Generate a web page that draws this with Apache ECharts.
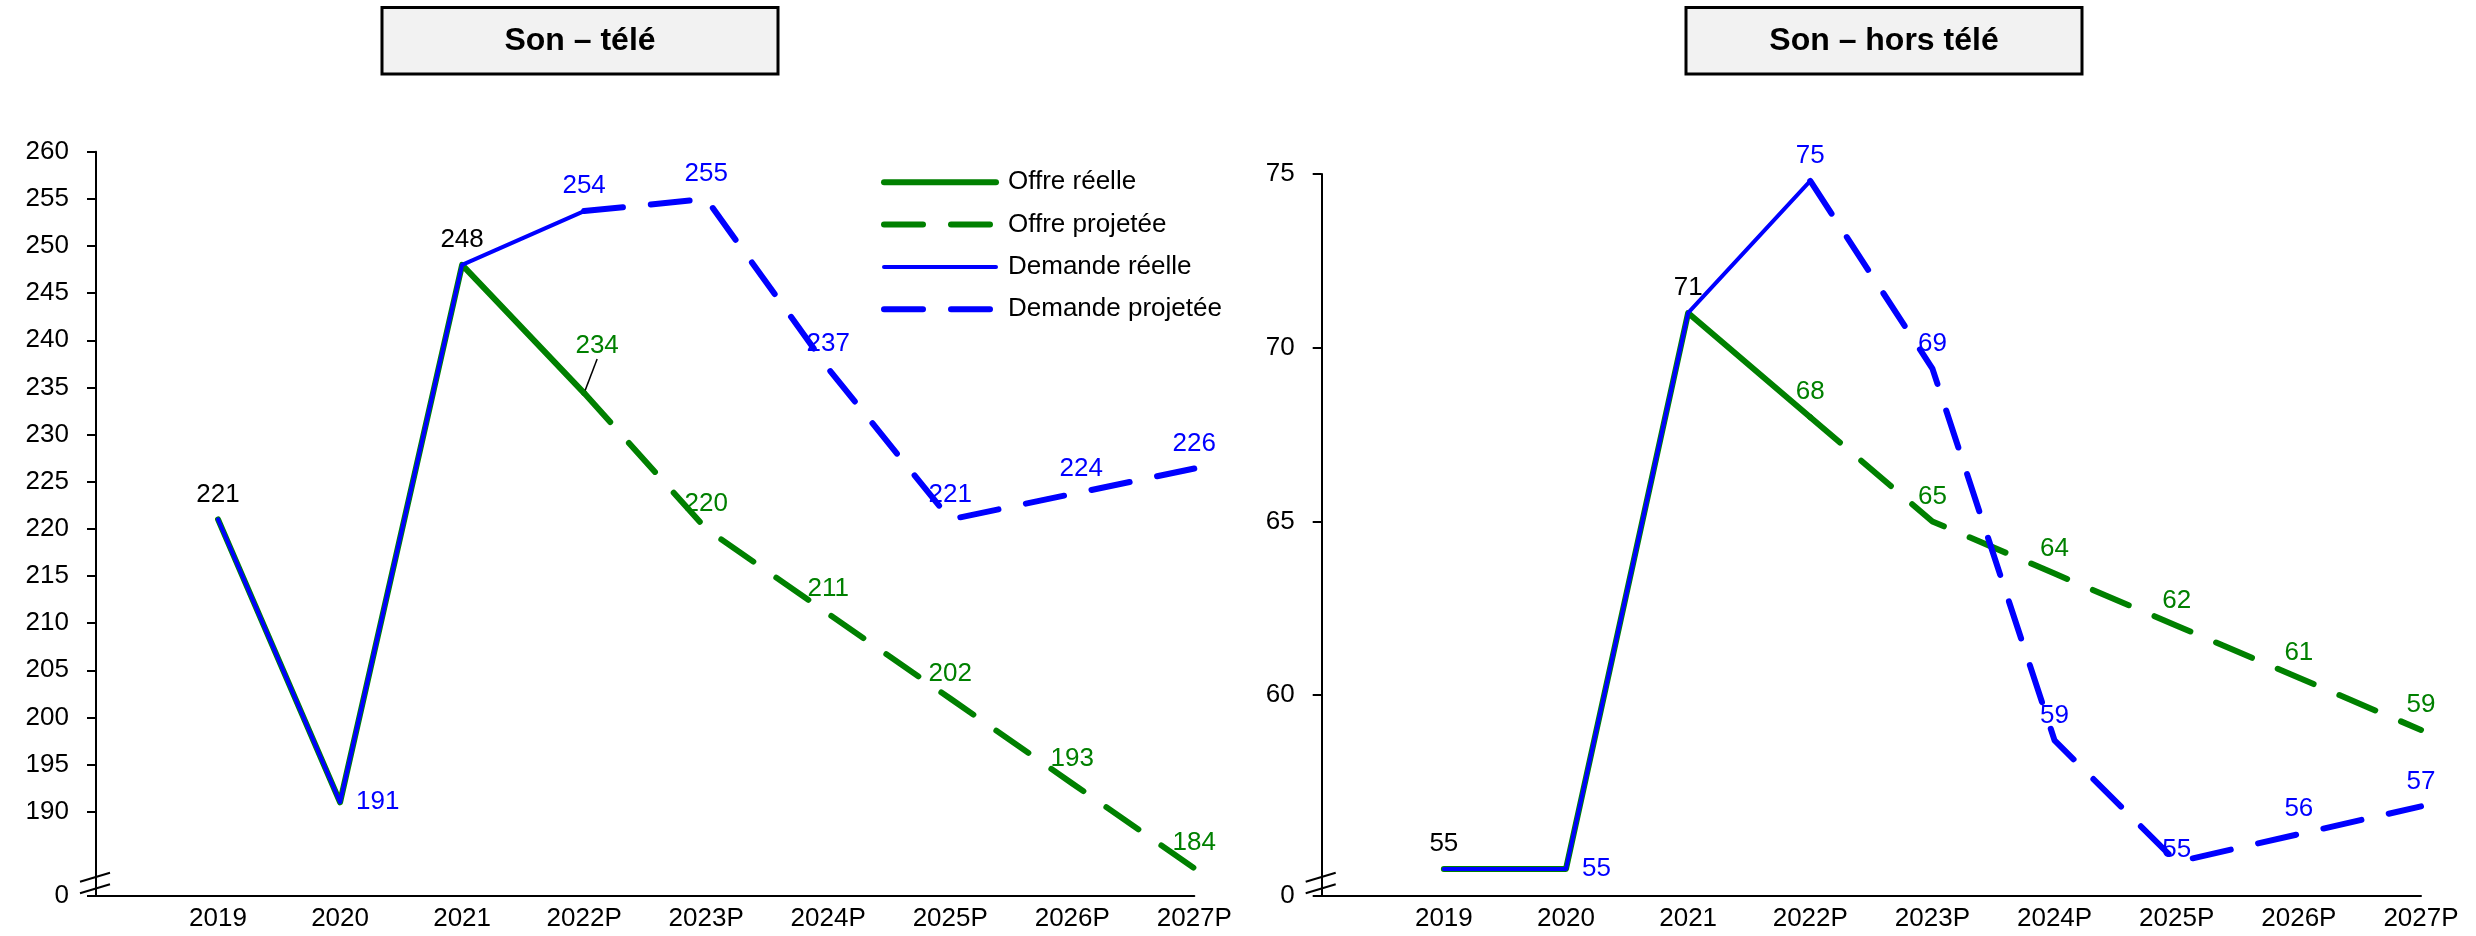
<!DOCTYPE html>
<html><head><meta charset="utf-8">
<script src="https://cdn.jsdelivr.net/npm/echarts@6/dist/echarts.min.js"></script>
<style>html,body{margin:0;padding:0;background:#fff}#c{width:2476px;height:936px}</style>
</head><body><div id="c"></div>
<script>
// ---------- data ----------
const categories = ['2019', '2020', '2021', '2022P', '2023P', '2024P', '2025P', '2026P', '2027P'];
const seriesNames = ['Offre réelle', 'Offre projetée', 'Demande réelle', 'Demande projetée'];
const chartTitles = ['Son – télé', 'Son – hors télé'];

// Son – télé
const teleOffreReelle      = [221, 191, 248, 234.4, null, null, null, null, null];
const teleOffreProjetee    = [null, null, null, 234.4, 220, 211, 202, 193, 184];
const teleDemandeReelle    = [221, 191, 248, 253.7, null, null, null, null, null];
const teleDemandeProjetee  = [null, null, null, 253.7, 255, 237, 221, 223.7, 226.4];
const teleTicks = [190, 195, 200, 205, 210, 215, 220, 225, 230, 235, 240, 245, 250, 255, 260];

// Son – hors télé
const horsOffreReelle      = [55, 55, 71, 68, null, null, null, null, null];
const horsOffreProjetee    = [null, null, null, 68, 65, 63.5, 62, 60.5, 59];
const horsDemandeReelle    = [55, 55, 71, 74.8, null, null, null, null, null];
const horsDemandeProjetee  = [null, null, null, 74.8, 69.4, 58.7, 55.2, 56, 56.8];
const horsTicks = [60, 65, 70, 75];

// ---------- styling / layout ----------
const FONT = 'Liberation Sans, Arial, sans-serif';
const GREEN = '#008000', BLUE = '#0000ff', BLACK = '#000000';
const DASH = [39, 28];
const grids = [
  {left: 96, top: 151.7, width: 1098.3, height: 744.3},
  {left: 1321.7, top: 174, width: 1099.3, height: 722}
];
const yRanges = [{min: 181.06, max: 260, ticks: teleTicks}, {min: 54.22, max: 75, ticks: horsTicks}];
const xCats = [''].concat(categories);

// label specs per chart: series index -> {dataIdx: spec}
const labelSpecs = [
  [
    {0: {c: BLACK}, 2: {c: BLACK}, 3: {c: GREEN, lead: true}},
    {4: {c: GREEN}, 5: {c: GREEN}, 6: {c: GREEN}, 7: {c: GREEN}, 8: {c: GREEN}},
    {1: {c: BLUE, pos: 'right'}, 3: {c: BLUE}},
    {4: {c: BLUE}, 5: {c: BLUE}, 6: {c: BLUE}, 7: {c: BLUE, dx: 9}, 8: {c: BLUE}}
  ],
  [
    {0: {c: BLACK}, 2: {c: BLACK}, 3: {c: GREEN}},
    {4: {c: GREEN}, 5: {c: GREEN}, 6: {c: GREEN}, 7: {c: GREEN}, 8: {c: GREEN}},
    {1: {c: BLUE, pos: 'right'}, 3: {c: BLUE}},
    {4: {c: BLUE}, 5: {c: BLUE}, 6: {c: BLUE, dy: 13}, 7: {c: BLUE}, 8: {c: BLUE}}
  ]
];
const seriesStyles = [
  {color: GREEN, width: 6, dashed: false, z: 2},
  {color: GREEN, width: 6, dashed: true, z: 3},
  {color: BLUE, width: 4, dashed: false, z: 4},
  {color: BLUE, width: 6, dashed: true, z: 5}
];
const chartData = [
  [teleOffreReelle, teleOffreProjetee, teleDemandeReelle, teleDemandeProjetee],
  [horsOffreReelle, horsOffreProjetee, horsDemandeReelle, horsDemandeProjetee]
];

function buildSeries(gi, si) {
  const st = seriesStyles[si];
  const specs = labelSpecs[gi][si];
  const vals = [null].concat(chartData[gi][si]);
  const data = vals.map((v, i) => {
    const item = {value: v};
    const sp = specs[i - 1];
    if (sp && v != null) {
      item.label = {
        show: true,
        position: sp.pos || 'top',
        distance: sp.pos === 'right' ? 15 : 11,
        color: sp.c,
        offset: [sp.dx || 0, sp.dy || 0]
      };
      if (sp.lead) {
        item.labelLine = {show: true, length2: 0, lineStyle: {color: '#000', width: 1.5}};
      }
    } else {
      item.label = {show: false};
    }
    return item;
  });
  const s = {
    type: 'line',
    name: seriesNames[si],
    xAxisIndex: gi, yAxisIndex: gi,
    data: data,
    z: st.z,
    symbol: 'circle', symbolSize: 2,
    itemStyle: {color: 'rgba(0,0,0,0)', borderWidth: 0},
    lineStyle: {color: st.color, width: st.width, type: st.dashed ? DASH : 'solid', cap: 'round', join: 'round'},
    label: {fontFamily: FONT, fontSize: 26, formatter: p => Math.round(p.value)},
    emphasis: {disabled: true},
    silent: true,
    animation: false
  };
  if (gi === 0 && si === 0) {
    s.labelLayout = function (params) {
      if (params.dataIndex === 4) return {dx: 13, dy: -22};
      return {};
    };
  }
  return s;
}

const series = [];
for (let g = 0; g < 2; g++) for (let s = 0; s < 4; s++) series.push(buildSeries(g, s));

const xAxes = grids.map((g, i) => ({
  type: 'category', gridIndex: i, data: xCats, boundaryGap: false,
  axisLine: {lineStyle: {color: '#000', width: 2}},
  axisTick: {show: false},
  axisLabel: {color: '#000', fontFamily: FONT, fontSize: 26, margin: 10, interval: 0},
  splitLine: {show: false}
}));
const yAxes = yRanges.map((r, i) => ({
  type: 'value', gridIndex: i, min: r.min, max: r.max,
  axisLine: {show: true, lineStyle: {color: '#000', width: 2}},
  axisTick: {show: true, length: 9, lineStyle: {color: '#000', width: 2}, customValues: [r.min].concat(r.ticks)},
  axisLabel: {color: '#000', fontFamily: FONT, fontSize: 26, margin: 27,
    customValues: [r.min].concat(r.ticks),
    formatter: v => (Math.abs(v - r.min) < 1e-6 ? '0' : String(v))},
  splitLine: {show: false}
}));

const legendStyles = seriesStyles;
const option = {
  backgroundColor: '#ffffff',
  animation: false,
  grid: grids,
  xAxis: xAxes,
  yAxis: yAxes,
  legend: {
    orient: 'vertical', left: 876, top: 164.3,
    itemWidth: 112, itemHeight: 26, itemGap: 16.3,
    selectedMode: false,
    textStyle: {color: '#000', fontFamily: FONT, fontSize: 26, padding: [0, 0, 0, 7]},
    data: seriesNames.map((n, i) => ({
      name: n,
      itemStyle: {color: 'rgba(0,0,0,0)', borderWidth: 0},
      lineStyle: {color: legendStyles[i].color, width: legendStyles[i].width,
        type: legendStyles[i].dashed ? DASH : 'solid', cap: 'round'}
    }))
  },
  series: series
};

const chart = echarts.init(document.getElementById('c'), null, {renderer: 'canvas'});
chart.setOption(option);

// title boxes + axis break marks
const titleBoxes = [{x: 382, w: 396}, {x: 1686, w: 396}];
const graphics = [];
titleBoxes.forEach((b, i) => {
  graphics.push({type: 'rect', shape: {x: b.x, y: 7.5, width: b.w, height: 66.5},
    style: {fill: '#f2f2f2', stroke: '#000', lineWidth: 3}, z: 10});
  graphics.push({type: 'text', x: b.x + b.w / 2, y: 41,
    style: {text: chartTitles[i], fontFamily: FONT, fontSize: 32, fontWeight: 'bold', fill: '#000',
      align: 'center', verticalAlign: 'middle'}, z: 11});
});
for (let i = 0; i < 2; i++) {
  const p = chart.convertToPixel({gridIndex: i}, [0, yRanges[i].min]);
  [[-14.3, -23.3], [-2.7, -11.7]].forEach(d => {
    graphics.push({type: 'line', shape: {x1: p[0] - 16, y1: p[1] + d[0], x2: p[0] + 14, y2: p[1] + d[1]},
      style: {stroke: '#000', lineWidth: 2}, z: 10});
  });
}
chart.setOption({graphic: graphics});
</script>
</body></html>
